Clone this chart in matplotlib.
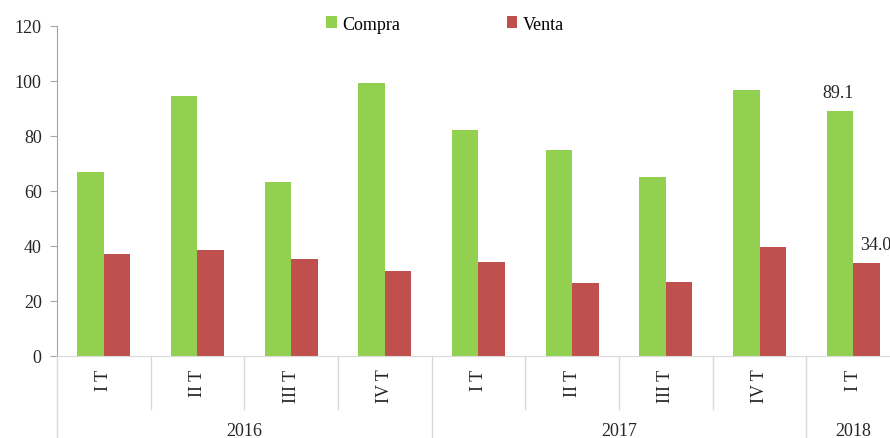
import matplotlib
matplotlib.use("Agg")
import matplotlib.pyplot as plt
import matplotlib.transforms as mtransforms
import numpy as np

plt.rcParams['font.family'] = ['Liberation Serif', 'DejaVu Serif']

quarters = ["I T", "II T", "III T", "IV T", "I T", "II T", "III T", "IV T", "I T"]
years = ["2016", "2017", "2018"]
year_counts = [4, 4, 1]
compra = [66.9, 94.5, 63.3, 99.3, 82.2, 74.9, 65.1, 96.7, 89.1]
venta = [37.1, 38.5, 35.3, 30.9, 34.2, 26.5, 26.9, 39.6, 34.0]

green = "#92D050"
red = "#C0504D"

fig = plt.figure(figsize=(8.9, 4.39), dpi=100)
ax = fig.add_axes([57/890, 82/439, 843/890, 330/439])

x = np.arange(len(quarters))
w = 0.283
ax.bar(x - w/2, compra, width=w, color=green, label="Compra")
ax.bar(x + w/2, venta, width=w, color=red, label="Venta")

ax.set_xlim(-0.5, len(quarters) - 0.5)
ax.set_ylim(0, 120)
ax.set_yticks(range(0, 121, 20))
ax.tick_params(axis='y', labelsize=13, length=5, color="#A6A6A6", labelcolor="#262626", pad=6)
ax.set_xticks([])
for s in ["top", "right"]:
    ax.spines[s].set_visible(False)
ax.spines["left"].set_color("#A6A6A6")
ax.spines["bottom"].set_color("#D9D9D9")

# value labels for last quarter
last = len(quarters) - 1
ax.annotate(f"{compra[last]:.1f}", xy=(last - w/2, compra[last]), xytext=(-1, 7),
            textcoords="offset points", ha="center", va="bottom", fontsize=13, color="#262626")
ax.annotate(f"{venta[last]:.1f}", xy=(last + w/2, venta[last]), xytext=(7, 7),
            textcoords="offset points", ha="center", va="bottom", fontsize=13, color="#262626",
            annotation_clip=False)

trans = mtransforms.blended_transform_factory(ax.transData, ax.transAxes)
for i, q in enumerate(quarters):
    ax.text(i, -0.038, q, rotation=90, ha="center", va="top", fontsize=13,
            color="#262626", transform=trans)

# separators
year_bounds = np.cumsum([0] + year_counts)
for b in range(len(quarters) + 1):
    xb = b - 0.5
    ybot = -0.248 if b in year_bounds else -0.161
    ax.plot([xb, xb], [0, ybot], color="#D9D9D9", lw=1, transform=trans, clip_on=False)

for j, yr in enumerate(years):
    c = (year_bounds[j] + year_bounds[j + 1] - 1) / 2
    ax.text(c, -0.227, yr, ha="center", va="center", fontsize=13, color="#262626", transform=trans)

fig.legend(loc="center", bbox_to_anchor=(0.5, 1 - 25/439), ncol=2, frameon=False,
           fontsize=13, handlelength=0.6, handleheight=0.6, handletextpad=0.3,
           columnspacing=5.9)

fig.savefig("out.png", dpi=100)
